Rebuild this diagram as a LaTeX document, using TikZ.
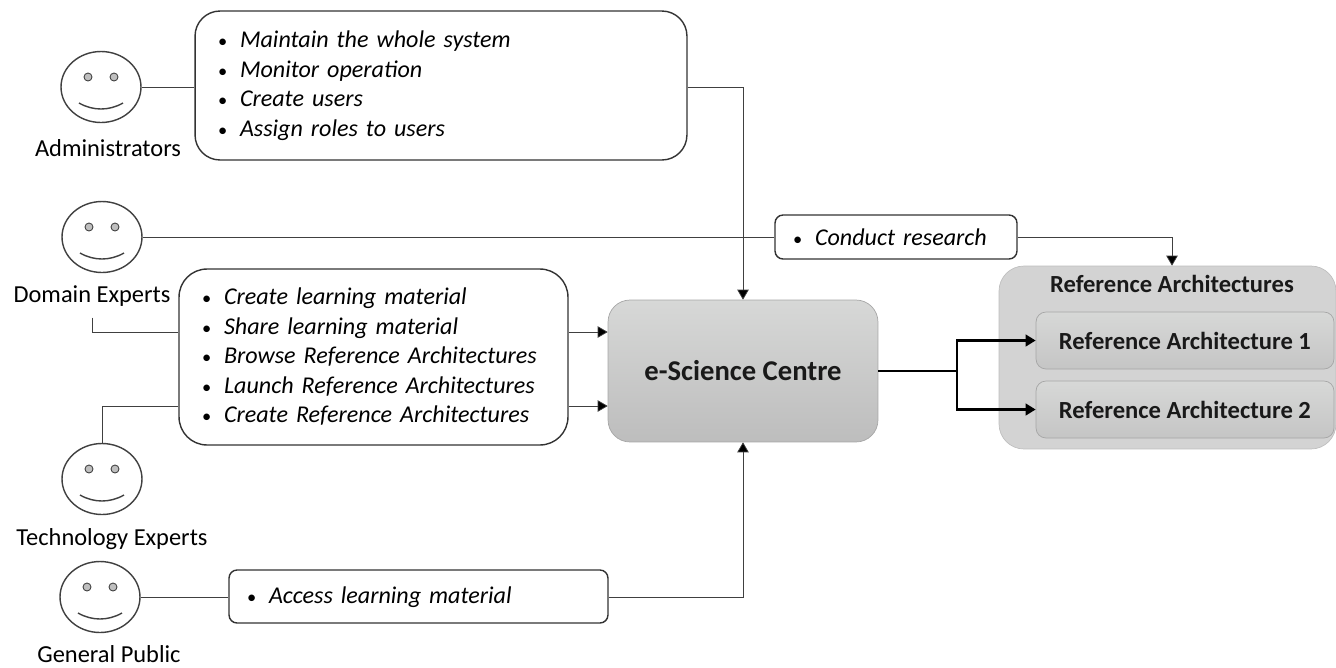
\documentclass[tikz,border=0pt]{standalone}
\usepackage{fontspec}
\setmainfont{Carlito}
\usetikzlibrary{arrows.meta,shapes.geometric}
\definecolor{linegray}{HTML}{404040}
\definecolor{panelgray}{HTML}{D3D3D3}
\definecolor{boxtop}{HTML}{D7D8D7}
\definecolor{boxbottom}{HTML}{BDBDBD}
\newcommand{\bitem}[1]{\makebox[0.44cm][l]{\fontsize{10.5}{10}\selectfont\textbullet}\textit{#1}}
\tikzset{
    facenode/.style={draw=linegray,ellipse,line width=0.8pt,minimum width=1.6cm,minimum height=1.42cm,inner sep=0pt},
    eyedot/.style={draw=linegray,fill=gray!50,line width=0.5pt},
    actorlabel/.style={font=\fontsize{13.9}{15}\selectfont,inner sep=0pt},
    rolebox/.style={draw=black!80,fill=white,line width=0.8pt,align=left,inner ysep=0pt,font=\fontsize{13.7}{16.8}\selectfont},
    graybox/.style={draw=gray!70,rounded corners=0.2cm,line width=0.4pt,top color=boxtop,bottom color=boxbottom,font=\fontsize{14}{15}\selectfont\bfseries,text=black!90}
}
\begin{document}
\begin{tikzpicture}[x=0.02cm,y=-0.02cm,>={Triangle[length=2mm,width=2.3mm,fill=black]}]
    \useasboundingbox (0,0) rectangle (1336,667);
    %actors
    \foreach \facename/\facex/\facey in {adminface/101/87,domainface/102/237,techface/102/479,publicface/100/597}{
        \node[facenode] (\facename) at (\facex,\facey) {};
        \draw[eyedot] (\facex-13,\facey-10) circle[radius=0.08cm];
        \draw[eyedot] (\facex+13,\facey-10) circle[radius=0.08cm];
        \draw[linegray,line width=0.8pt] (\facex-22,\facey+16) .. controls (\facex-8,\facey+24) and (\facex+8,\facey+24) .. (\facex+22,\facey+16);
    }
    \node[actorlabel] (adminlabel) at (108,148) {Administrators};
    \node[actorlabel] (domainlabel) at (92,296) {Domain Experts};
    \node[actorlabel] (techlabel) at (112,539) {Technology Experts};
    \node[actorlabel] (publiclabel) at (109,654) {General Public};
    %role boxes
    \node[rolebox,rounded corners=0.5cm,minimum width=9.84cm,minimum height=2.98cm,text width=8.92cm,inner xsep=0.46cm] (adminbox) at (441,85.5) {\bitem{Maintain the whole system}\\\bitem{Monitor operation}\\\bitem{Create users}\\\bitem{Assign roles to users}};
    \node[rolebox,rounded corners=0.56cm,minimum width=7.78cm,minimum height=3.52cm,text width=6.86cm,inner xsep=0.46cm] (authorbox) at (373.5,357) {\bitem{Create learning material}\\\bitem{Share learning material}\\\bitem{Browse Reference Architectures}\\\bitem{Launch Reference Architectures}\\\bitem{Create Reference Architectures}};
    \node[rolebox,rounded corners=0.16cm,minimum width=4.84cm,minimum height=0.88cm,text width=4.12cm,inner xsep=0.36cm] (researchbox) at (896,237) {\bitem{Conduct research}};
    \node[rolebox,rounded corners=0.16cm,minimum width=7.58cm,minimum height=1.06cm,text width=6.86cm,inner xsep=0.36cm] (accessbox) at (418.5,596.5) {\raisebox{-0.13cm}[0pt][0pt]{\bitem{Access learning material}}};
    %centre and architectures
    \node[graybox,rounded corners=0.44cm,minimum width=5.4cm,minimum height=2.84cm,font=\fontsize{16.3}{17}\selectfont\bfseries] (centre) at (743,371) {e-Science Centre};
    \node[draw=gray!50,fill=panelgray,rounded corners=0.5cm,minimum width=6.74cm,minimum height=3.66cm] (refpanel) at (1167.5,357.5) {};
    \node[font=\fontsize{14}{15}\selectfont\bfseries,text=black!90,inner sep=0pt] (reftitle) at (1172,284) {Reference Architectures};
    \node[graybox,bottom color=boxbottom!70!boxtop,minimum width=5.96cm,minimum height=1.14cm] (refone) at (1185,340.5) {Reference Architecture 1};
    \node[graybox,bottom color=boxbottom!70!boxtop,minimum width=5.96cm,minimum height=1.14cm] (reftwo) at (1185,409.5) {Reference Architecture 2};
    %connectors
    \draw[linegray] (adminface.east) -- (adminface.east -| adminbox.west);
    \draw[linegray,->] (adminface.east -| adminbox.east) -| (centre.north);
    \draw[linegray] (domainface.east) -- (researchbox.west);
    \draw[linegray,->] (researchbox.east) -| (reftitle.north |- refpanel.north);
    \draw[linegray] (domainlabel.south) ++(0,11) |- (authorbox.west |- 0,332);
    \draw[linegray] (techface.north) |- (authorbox.west |- 0,406);
    \draw[linegray,->] (authorbox.east |- 0,332) -- (centre.west |- 0,332);
    \draw[linegray,->] (authorbox.east |- 0,406) -- (centre.west |- 0,406);
    \draw[linegray] (publicface.east) -- (publicface.east -| accessbox.west);
    \draw[linegray,->] (accessbox.east |- 0,597) -| (centre.south);
    \draw[black,line width=1.4pt] (centre.east) -- (957,371);
    \draw[black,line width=1.4pt,->] (957,371) |- (refone.west);
    \draw[black,line width=1.4pt,->] (957,371) |- (reftwo.west);
\end{tikzpicture}
\end{document}
